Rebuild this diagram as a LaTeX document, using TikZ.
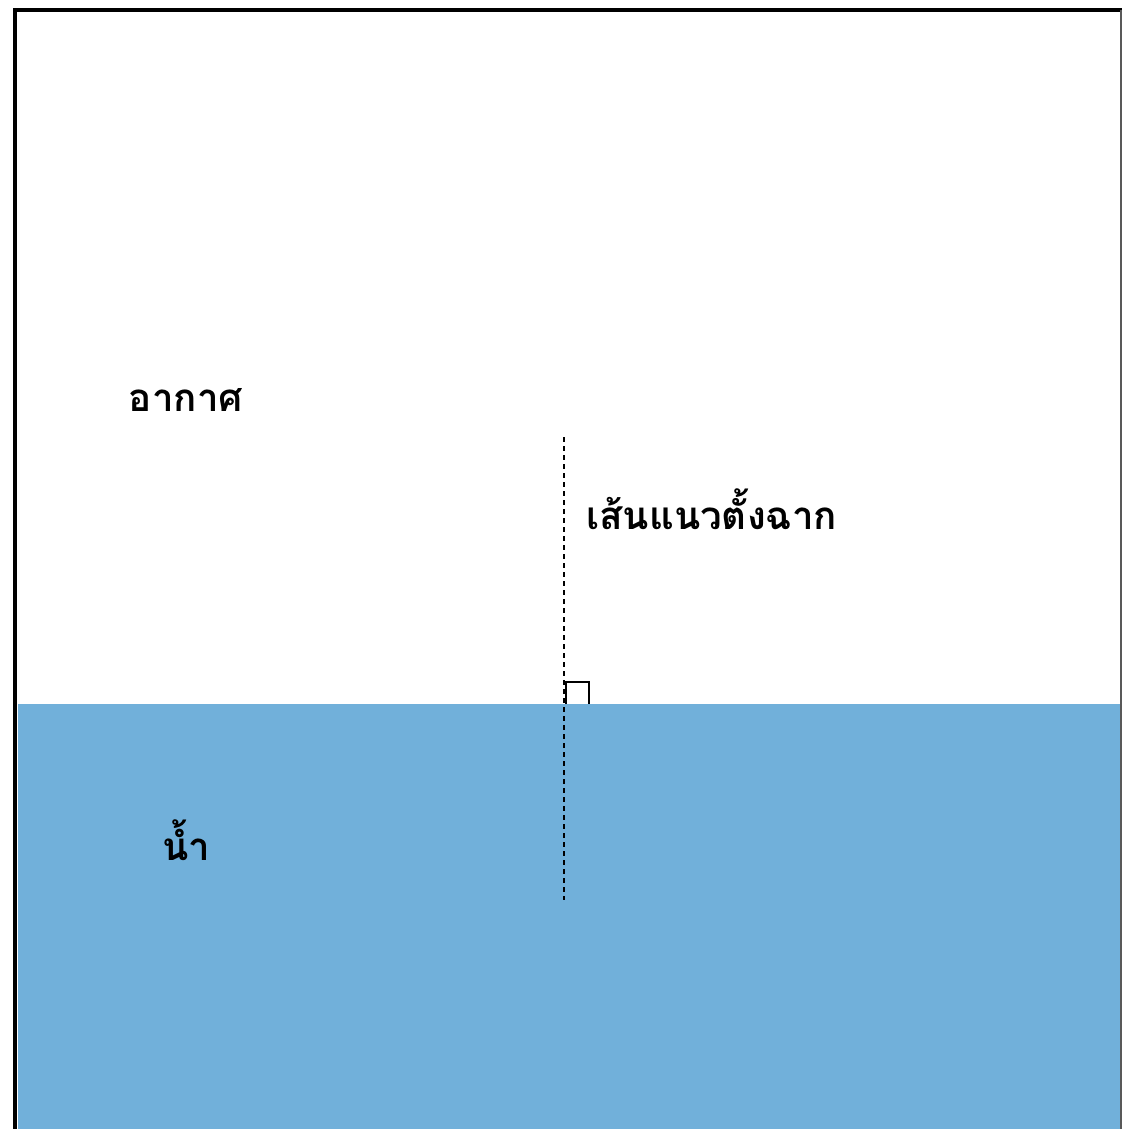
\documentclass[tikz,border=0pt]{standalone}
\usepackage{fontspec}
\newfontfamily\thaifont[Script=Thai]{Loma}
\definecolor{water}{HTML}{71B0DA}
\tikzset{
  lbl/.style={font=\thaifont\bfseries\fontsize{38.5}{44}\selectfont, inner sep=0pt},
  normal/.style={dashed, dash pattern=on 5pt off 4pt, line width=2pt},
}
\begin{document}
\begin{tikzpicture}[x=1pt,y=-1pt]
\useasboundingbox (0,0) rectangle (1122,1129);
\fill[white] (0,0) rectangle (1122,1129);
\fill[water] (18,704) rectangle (1120,1129);
\draw[line width=3.5pt] (15,1129) -- (15,10) -- (1122,10);
\draw[line width=2pt, gray!70!black] (1121,10) -- (1121,1129);
\coordinate (ntop) at (564,437);
\coordinate (nbot) at (564,900);
\draw[normal] (ntop) -- (nbot);
\draw[line width=1.5pt] (566,704) -- (566,682) -- (589,682) -- (589,704);
\node[lbl] (air) at (186,400) {อากาศ};
\node[lbl, anchor=west] (normallbl) at (586,509) {เส้นแนวตั้งฉาก};
\node[lbl] (wat) at (186,840) {น้ำ};
\end{tikzpicture}
\end{document}
